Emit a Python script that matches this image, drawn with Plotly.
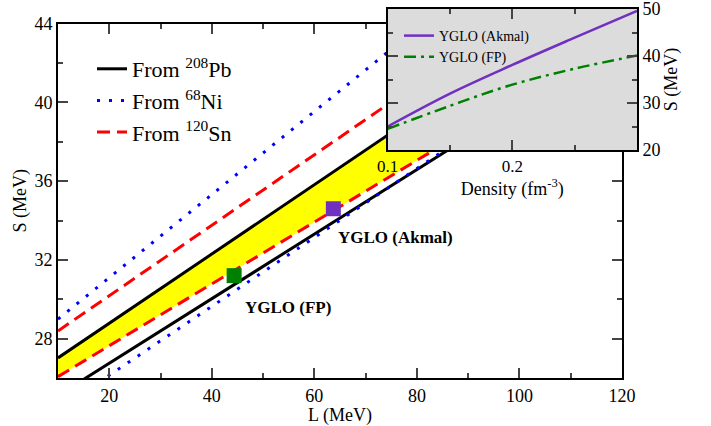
import plotly.graph_objects as go

# ---------------- data ----------------
L_range = [10, 120]                 # L (MeV) span of correlation lines
pb_upper = [27.02, 46.38]           # From 208Pb, upper bound
pb_lower = [25.11, 43.15]           # From 208Pb, lower bound
ni_upper = [28.99, 52.20]           # From 68Ni, upper bound
ni_lower = [24.39, 43.64]           # From 68Ni, lower bound
sn_upper = [28.39, 48.08]           # From 120Sn, upper bound
sn_lower = [26.07, 43.34]           # From 120Sn, lower bound

akmal_point = (63.7, 34.6)          # YGLO (Akmal) (L, S)
fp_point = (44.35, 31.2)            # YGLO (FP) (L, S)

density = [0.10, 0.15, 0.20, 0.25, 0.30]
S_akmal = [25.0, 32.0, 38.1, 43.9, 49.6]
S_fp = [24.5, 29.4, 33.9, 37.3, 40.1]

x_ticks = [20, 40, 60, 80, 100, 120]
y_ticks = [28, 32, 36, 40, 44]
x2_ticks = [0.1, 0.2, 0.3]
x2_labels = ["0.1", "0.2", ""]
y2_ticks = [20, 30, 40, 50]

FONT = "'Liberation Serif', 'Times New Roman', Times, 'DejaVu Serif', serif"
PURPLE = "#7030c0"
GREEN = "#008000"

fig = go.Figure()

# yellow band between Pb upper and Sn lower
fig.add_trace(go.Scatter(x=L_range, y=sn_lower, mode="lines", line=dict(width=0),
                         showlegend=False, hoverinfo="skip"))
fig.add_trace(go.Scatter(x=L_range, y=pb_upper, mode="lines", line=dict(width=0),
                         fill="tonexty", fillcolor="#ffff00", showlegend=False,
                         hoverinfo="skip"))

fig.add_trace(go.Scatter(x=L_range, y=pb_upper, mode="lines", name="From <sup>208</sup>Pb",
                         line=dict(color="black", width=3), legendgroup="pb"))
fig.add_trace(go.Scatter(x=L_range, y=pb_lower, mode="lines", showlegend=False,
                         line=dict(color="black", width=3), legendgroup="pb"))
fig.add_trace(go.Scatter(x=L_range, y=ni_upper, mode="lines", name="From <sup>68</sup>Ni",
                         line=dict(color="#0000ff", width=3, dash="3px,9px"), legendgroup="ni"))
fig.add_trace(go.Scatter(x=L_range, y=ni_lower, mode="lines", showlegend=False,
                         line=dict(color="#0000ff", width=3, dash="3px,9px"), legendgroup="ni"))
fig.add_trace(go.Scatter(x=L_range, y=sn_upper, mode="lines", name="From <sup>120</sup>Sn",
                         line=dict(color="#ff0000", width=3, dash="13px,7px"), legendgroup="sn"))
fig.add_trace(go.Scatter(x=L_range, y=sn_lower, mode="lines", showlegend=False,
                         line=dict(color="#ff0000", width=3, dash="13px,7px"), legendgroup="sn"))

fig.add_trace(go.Scatter(x=[akmal_point[0]], y=[akmal_point[1]], mode="markers",
                         marker=dict(symbol="square", size=15, color=PURPLE),
                         showlegend=False))
fig.add_trace(go.Scatter(x=[fp_point[0]], y=[fp_point[1]], mode="markers",
                         marker=dict(symbol="square", size=15, color=GREEN),
                         showlegend=False))

# inset
fig.add_trace(go.Scatter(x=density, y=S_akmal, mode="lines", name="YGLO (Akmal)",
                         line=dict(color=PURPLE, width=2.5, shape="spline"),
                         xaxis="x2", yaxis="y2", legend="legend2"))
fig.add_trace(go.Scatter(x=density, y=S_fp, mode="lines", name="YGLO (FP)",
                         line=dict(color=GREEN, width=2.5, shape="spline",
                                   dash="12px,5px,3px,5px"),
                         xaxis="x2", yaxis="y2", legend="legend2"))

fig.add_shape(type="rect", xref="x2", yref="y2", x0=0.1, x1=0.3, y0=20, y1=50,
              fillcolor="#dcdcdc", line=dict(width=0), layer="below")

axis_common = dict(showgrid=False, zeroline=False, showline=True, linecolor="black",
                   linewidth=2, ticks="inside", ticklen=10, tickwidth=1.5,
                   tickcolor="#444", mirror="allticks", automargin=False,
                   ticklabeloverflow="allow")

# plot area: x 58..637, y 9..378  (px)
fig.update_layout(
    width=711, height=426,
    margin=dict(l=58, r=74, t=9, b=48),
    paper_bgcolor="white", plot_bgcolor="white",
    font=dict(family=FONT, color="black"),
    xaxis=dict(domain=[0, 0.9741], range=[10, 120], tickvals=x_ticks,
               minor=dict(dtick=10, tick0=10, ticks="inside", ticklen=5, tickcolor="#444",
                          tickwidth=1.5),
               tickfont=dict(size=18, family=FONT),
               title=dict(text="L (MeV)", font=dict(size=18, family=FONT), standoff=0),
               anchor="y", **axis_common),
    yaxis=dict(domain=[0, 0.9602], range=[26, 44], tickvals=y_ticks,
               minor=dict(dtick=2, tick0=26, ticks="inside", ticklen=5, tickcolor="#444",
                          tickwidth=1.5),
               tickfont=dict(size=18, family=FONT),
               title=dict(text="S (MeV)", font=dict(size=18, family=FONT), standoff=3),
               anchor="x", **axis_common),
    xaxis2=dict(domain=[0.5694, 1.0], range=[0.1, 0.3], tickvals=x2_ticks,
                ticktext=x2_labels,
                minor=dict(dtick=0.05, tick0=0.1, ticks="inside", ticklen=5, tickcolor="#444",
                           tickwidth=1.5),
                tickfont=dict(size=17, family=FONT),
                title=dict(text="Density (fm<sup>-3</sup>)", font=dict(size=18, family=FONT),
                           standoff=2),
                anchor="y2", **axis_common),
    yaxis2=dict(domain=[0.6179, 1.0], range=[20, 50], tickvals=y2_ticks, side="right",
                minor=dict(dtick=5, tick0=20, ticks="inside", ticklen=5, tickcolor="#444",
                           tickwidth=1.5),
                tickfont=dict(size=18, family=FONT),
                title=dict(text="S (MeV)", font=dict(size=18, family=FONT), standoff=0),
                anchor="x2", **axis_common),
    legend=dict(x=(92 - 58) / 579, y=(378 - 48) / 369, xanchor="left", yanchor="top",
                bgcolor="rgba(0,0,0,0)", borderwidth=0,
                font=dict(size=22, family=FONT), tracegroupgap=0),
    legend2=dict(x=(399 - 58) / 579, y=(378 - 20) / 369, xanchor="left", yanchor="top",
                 bgcolor="rgba(0,0,0,0)", borderwidth=0,
                 font=dict(size=14, family=FONT), tracegroupgap=0),
)

fig.add_annotation(x=akmal_point[0] + 0.5, y=33.16, xref="x", yref="y",
                   text="<b>YGLO (Akmal)</b>", showarrow=False, xanchor="left",
                   font=dict(size=17, family=FONT, color="black"))
fig.add_annotation(x=46.0, y=29.59, xref="x", yref="y",
                   text="<b>YGLO (FP)</b>", showarrow=False, xanchor="left",
                   font=dict(size=17, family=FONT, color="black"))

fig.write_html("out.html", config={"displayModeBar": False},
               post_script="document.body.style.margin='0';")
